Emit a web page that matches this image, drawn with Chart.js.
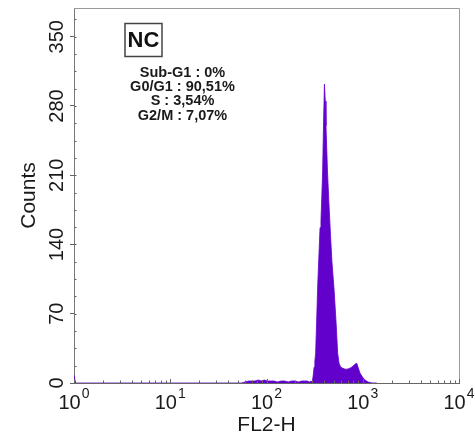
<!DOCTYPE html>
<html>
<head>
<meta charset="utf-8">
<script src="https://cdn.jsdelivr.net/npm/chart.js@4/dist/chart.umd.min.js"></script>
<style>
html,body{margin:0;padding:0;background:#fff;}
#wrap{width:475px;height:442px;position:relative;}
</style>
</head>
<body>
<div id="wrap"><canvas id="c"></canvas></div>
<script>
// ---- data ----
const fl2H = [1, 1.02, 1.04, 55, 60, 65, 70, 76, 82, 88, 95, 102, 110, 120, 130, 142, 155, 168, 182, 198, 215, 232, 250, 265, 280, 290, 295, 300, 306, 312, 318, 324, 332, 340, 351, 360, 368, 376, 383, 391, 400, 408, 415, 430, 446, 462, 479, 503, 527, 549, 567, 590, 620, 654, 690, 738, 765, 793, 830, 866, 893, 936, 994, 1055, 1135, 1250, 1400];
const counts = [8, 8, 0, 0, 1, 2, 2, 2, 3, 2, 3, 2, 2, 2, 1, 2, 2, 1, 2, 2, 1, 2, 2, 2, 1, 2, 1, 2, 8, 16, 22, 30, 63, 97, 131, 157, 164, 190, 214, 260, 302, 285, 260, 214, 180, 150, 122, 95, 63, 30, 20, 16, 15, 14, 14, 15, 16, 17, 19, 20, 16, 10, 6, 3, 1, 0, 0];
const yTickValues = [0, 70, 140, 210, 280, 350];
const xTickExponents = [0, 1, 2, 3, 4];
const sampleName = 'NC';
const phaseLabels = ['Sub-G1 : 0%', 'G0/G1 : 90,51%', 'S : 3,54%', 'G2/M : 7,07%'];

const narrow = "'Liberation Sans Narrow', 'Liberation Sans', Arial, sans-serif";
const sans = "'Liberation Sans', Arial, Helvetica, sans-serif";

const points = fl2H.map((x, i) => ({x: x, y: counts[i]}));

const decorPlugin = {
  id: 'decor',
  afterDraw(chart) {
    const ctx = chart.ctx;
    const a = chart.chartArea;
    const xs = chart.scales.x, ys = chart.scales.y;
    ctx.save();
    // frame top / right
    ctx.strokeStyle = '#9a9a9a';
    ctx.lineWidth = 1;
    ctx.beginPath();
    ctx.moveTo(a.left, a.top + 0.5); ctx.lineTo(a.right + 0.5, a.top + 0.5); ctx.lineTo(a.right + 0.5, a.bottom);
    ctx.stroke();
    // minor x ticks (inward)
    ctx.strokeStyle = '#666';
    ctx.beginPath();
    for (let e = 0; e < 4; e++) {
      for (let m = 1; m <= 10; m++) {
        const v = m * Math.pow(10, e);
        const px = Math.round(xs.getPixelForValue(v)) + 0.5;
        const len = (m === 1 || m === 10) ? 4 : 2.5;
        ctx.moveTo(px, a.bottom); ctx.lineTo(px, a.bottom - len);
      }
    }
    // minor y ticks (inward)
    for (let v = 0; v <= 379; v += 17.5) {
      const py = Math.round(ys.getPixelForValue(v)) + 0.5;
      ctx.moveTo(a.left, py); ctx.lineTo(a.left + 2.5, py);
    }
    ctx.stroke();
    // x tick labels 10^n
    ctx.fillStyle = '#1a1a1a';
    ctx.textBaseline = 'alphabetic';
    xTickExponents.forEach(e => {
      const px = xs.getPixelForValue(Math.pow(10, e));
      ctx.font = '20px ' + sans;
      const w1 = ctx.measureText('10').width;
      ctx.font = '14px ' + sans;
      const w2 = ctx.measureText(String(e)).width;
      const x0 = px - (w1 + w2 + 1) / 2;
      ctx.font = '20px ' + sans;
      ctx.textAlign = 'left';
      ctx.fillText('10', x0, a.bottom + 26);
      ctx.font = '14px ' + sans;
      ctx.fillText(String(e), x0 + w1 + 1, a.bottom + 15);
    });
    // annotation box
    ctx.strokeStyle = '#444';
    ctx.lineWidth = 1.5;
    ctx.strokeRect(125, 23.5, 37, 33);
    ctx.fillStyle = '#111';
    ctx.font = 'bold 22px ' + sans;
    ctx.textAlign = 'center';
    ctx.textBaseline = 'middle';
    ctx.fillText(sampleName, 143.5, 40.5);
    ctx.font = 'bold 14.5px ' + sans;
    ctx.fillStyle = '#1a1a1a';
    phaseLabels.forEach((t, i) => {
      ctx.fillText(t, 182.5, 73 + i * 14.2);
    });
    ctx.restore();
  }
};

new Chart(document.getElementById('c'), {
  type: 'line',
  data: {
    datasets: [{
      data: points,
      borderColor: '#6200cc',
      backgroundColor: '#6200cc',
      borderWidth: 0.8,
      fill: 'origin',
      pointRadius: 0,
      tension: 0
    }]
  },
  options: {
    responsive: true,
    maintainAspectRatio: false,
    animation: false,
    layout: {padding: {top: 6, right: 16, left: 0, bottom: 0}},
    plugins: {legend: {display: false}, tooltip: {enabled: false}},
    scales: {
      x: {
        type: 'logarithmic',
        min: 1,
        max: 10000,
        afterBuildTicks: s => { s.ticks = xTickExponents.map(e => ({value: Math.pow(10, e)})); },
        afterFit: s => { s.height = 59; },
        ticks: {display: false},
        grid: {display: false},
        border: {display: true, color: '#666', width: 1},
        title: {display: true, text: 'FL2-H', color: '#1a1a1a', font: {family: sans, size: 21}, padding: {top: 0, bottom: 4}}
      },
      y: {
        type: 'linear',
        min: 0,
        max: 379,
        afterBuildTicks: s => { s.ticks = yTickValues.map(v => ({value: v})); },
        afterFit: s => { s.width = 74; },
        ticks: {
          autoSkip: false,
          minRotation: 90,
          maxRotation: 90,
          crossAlign: 'center',
          padding: -4,
          color: '#1a1a1a',
          font: {family: narrow, size: 20}
        },
        grid: {drawOnChartArea: false, tickLength: 4, color: '#666'},
        border: {display: true, color: '#777', width: 1},
        title: {display: true, text: 'Counts', color: '#1a1a1a', font: {family: narrow, size: 21}, padding: {top: 17, bottom: 0}}
      }
    }
  },
  plugins: [decorPlugin]
});
</script>
</body>
</html>
